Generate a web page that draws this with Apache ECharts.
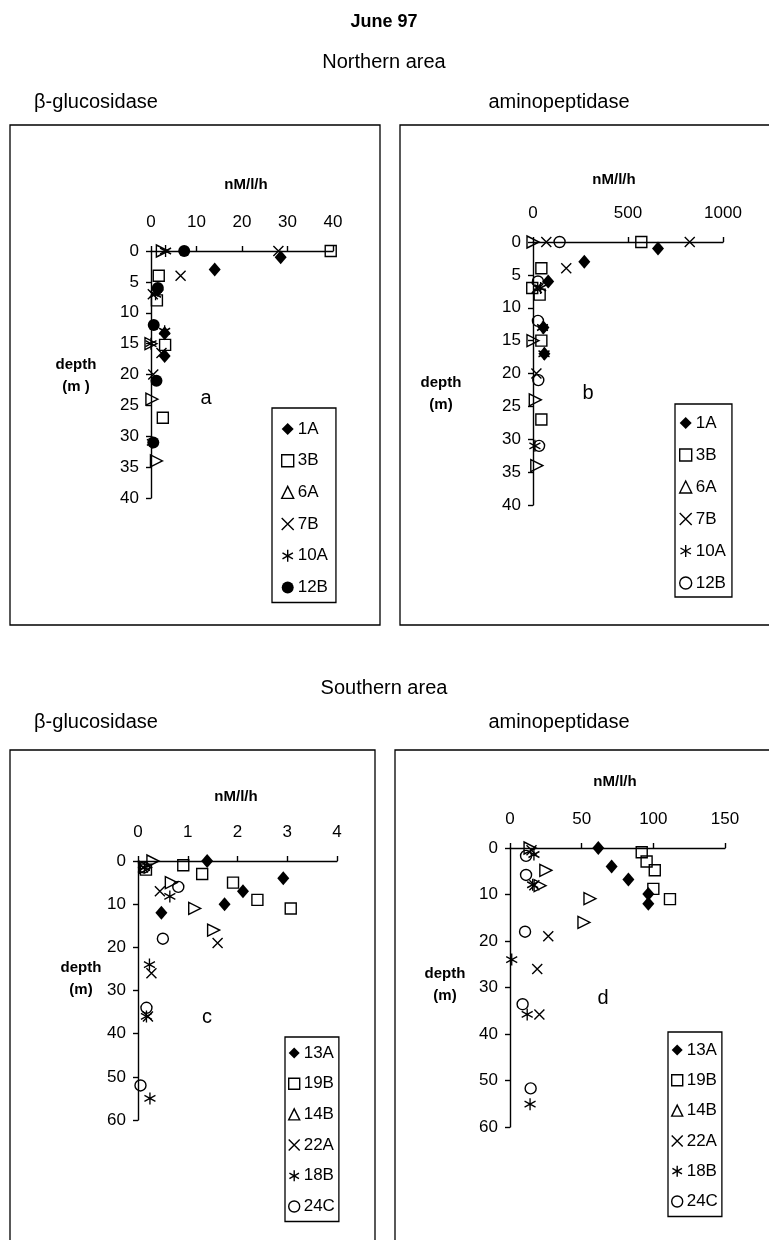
<!DOCTYPE html>
<html>
<head>
<meta charset="utf-8">
<script src="https://cdn.jsdelivr.net/npm/echarts@6/dist/echarts.min.js"></script>
<style>
html,body{margin:0;padding:0;background:#fff;}
#chart{width:769px;height:1240px;}
</style>
</head>
<body>
<div id="chart"></div>
<script>
// ---------- tick labels / axis ranges ----------
const ticksA = { xMax: 40, xStep: 10, yMax: 40, yStep: 5 };
const ticksB = { xMax: 1000, xStep: 500, yMax: 40, yStep: 5 };
const ticksC = { xMax: 4, xStep: 1, yMax: 60, yStep: 10 };
const ticksD = { xMax: 150, xStep: 50, yMax: 60, yStep: 10 };

// ---------- Northern area, beta-glucosidase (a) : [nM/l/h, depth m] ----------
const a_1A  = [[28.5,1],[14,3],[1.5,6.3],[3,13.3],[3,17]];
const a_3B  = [[39.5,0],[1.7,4],[1.3,8],[3.1,15.2],[2.6,27]];
const a_6A  = [[2.5,0],[0,15],[0.2,24],[1.2,34]];
const a_7B  = [[28,0],[6.5,4],[0.4,7],[2.3,16.5],[0.5,20]];
const a_10A = [[3.2,0],[1,7],[3,13],[0,15],[0.3,31]];
const a_12B = [[7.3,0],[1.5,6],[0.6,12],[1.2,21],[0.5,31]];

// ---------- Northern area, aminopeptidase (b) ----------
const b_1A  = [[658,1],[270,3],[80,6],[55,13],[60,17]];
const b_3B  = [[570,0],[44,4],[-4,7],[35,8],[44,15],[44,27]];
const b_6A  = [[0,0],[0,15],[12,24],[20,34]];
const b_7B  = [[825,0],[70,0],[175,4],[20,7],[18,20]];
const b_10A = [[40,7],[50,13],[58,17],[10,31]];
const b_12B = [[140,0],[26,6],[26,12],[28,21],[32,31]];

// ---------- Southern area, beta-glucosidase (c) ----------
const c_13A = [[1.39,0],[2.92,4],[2.11,7],[1.74,10],[0.47,12]];
const c_19B = [[0.91,1],[1.29,3],[1.91,5],[2.40,9],[3.07,11],[0.16,2]];
const c_14B = [[0.30,0],[0.67,5],[1.14,11],[1.52,16],[0.15,1.5]];
const c_22A = [[0.44,7],[1.60,19],[0.27,26],[0.2,36],[0.1,1.5]];
const c_18B = [[0.13,1.5],[0.64,8.2],[0.23,24],[0.17,36],[0.24,55]];
const c_24C = [[0.12,1.5],[0.81,6],[0.50,18],[0.17,34],[0.05,52]];

// ---------- Southern area, aminopeptidase (d) ----------
const d_13A = [[61.6,0],[70.9,4],[82.6,6.8],[96.5,9.9],[96.5,12]];
const d_19B = [[91.9,0.9],[95.3,2.9],[101,4.8],[100,8.8],[111.6,11]];
const d_14B = [[14,0],[25,4.8],[21,8.1],[55.8,10.9],[51.6,16]];
const d_22A = [[15,0.5],[17,8],[26.7,19],[19,26],[20.5,35.8]];
const d_18B = [[16.7,1.4],[15.8,7.9],[1.2,24],[12,35.8],[14,55.1]];
const d_24C = [[11.2,1.7],[11.2,5.8],[10.5,18],[8.8,33.6],[14.4,51.7]];

// ---------- marker styles ----------
const CROSS = 'path://M-1,-1L1,1M-1,1L1,-1';
const STAR = 'path://M0,-1L0,1M-0.87,-0.5L0.87,0.5M-0.87,0.5L0.87,-0.5';
const K = '#000';
const styles = {
  diamond: { symbol: 'diamond', size: [12,14], rot: 0, item: { color: K } },
  square:  { symbol: 'rect', size: 11, rot: 0, item: { color: 'rgba(0,0,0,0)', borderColor: K, borderWidth: 1.4 } },
  tri:     { symbol: 'triangle', size: 12, rot: -90, item: { color: 'rgba(0,0,0,0)', borderColor: K, borderWidth: 1.4 } },
  cross:   { symbol: CROSS, size: 10, rot: 0, item: { color: K, borderColor: K, borderWidth: 1.4 } },
  star:    { symbol: STAR, size: [11,12], rot: 0, item: { color: K, borderColor: K, borderWidth: 1.4 } },
  dot:     { symbol: 'circle', size: 12, rot: 0, item: { color: K } },
  ring:    { symbol: 'circle', size: 11, rot: 0, item: { color: 'rgba(0,0,0,0)', borderColor: K, borderWidth: 1.4 } }
};

const FONT = '"Liberation Sans", Arial, sans-serif';
const BOLDF = '"Liberation Sans", Arial, sans-serif';

const panels = [
  { t: ticksA, grid: { left: 151, top: 251, width: 182, height: 247 },
    series: [['1A',a_1A,'diamond'],['3B',a_3B,'square'],['6A',a_6A,'tri'],['7B',a_7B,'cross'],['10A',a_10A,'star'],['12B',a_12B,'dot']],
    legend: { left: 272, top: 408, padding: [12,8,6,9], gap: 13.7, iw: 12 } },
  { t: ticksB, grid: { left: 533, top: 242, width: 190, height: 263 },
    series: [['1A',b_1A,'diamond'],['3B',b_3B,'square'],['6A',b_6A,'tri'],['7B',b_7B,'cross'],['10A',b_10A,'star'],['12B',b_12B,'ring']],
    legend: { left: 675, top: 404, padding: [10,6,5,4], gap: 14, iw: 12 } },
  { t: ticksC, grid: { left: 138, top: 861, width: 199, height: 259 },
    series: [['13A',c_13A,'diamond'],['19B',c_19B,'square'],['14B',c_14B,'tri'],['22A',c_22A,'cross'],['18B',c_18B,'star'],['24C',c_24C,'ring']],
    legend: { left: 285, top: 1037, padding: [7,4,6,3], gap: 12.7, iw: 11 } },
  { t: ticksD, grid: { left: 510, top: 848, width: 215, height: 279 },
    series: [['13A',d_13A,'diamond'],['19B',d_19B,'square'],['14B',d_14B,'tri'],['22A',d_22A,'cross'],['18B',d_18B,'star'],['24C',d_24C,'ring']],
    legend: { left: 668, top: 1032, padding: [9,4,6,3], gap: 12.3, iw: 11 } }
];

const grid = [], xAxis = [], yAxis = [], series = [], legend = [];
panels.forEach((p, i) => {
  grid.push(p.grid);
  xAxis.push({
    gridIndex: i, type: 'value', position: 'top', min: 0, max: p.t.xMax, interval: p.t.xStep,
    axisLine: { onZero: false, lineStyle: { color: K, width: 1.4 } },
    axisTick: { show: true, inside: false, length: 5, lineStyle: { color: K, width: 1.4 } },
    axisLabel: { color: K, fontSize: 17, fontFamily: FONT, margin: 20, formatter: v => String(v) },
    splitLine: { show: false }
  });
  yAxis.push({
    gridIndex: i, type: 'value', inverse: true, min: 0, max: p.t.yMax, interval: p.t.yStep,
    axisLine: { onZero: false, lineStyle: { color: K, width: 1.4 } },
    axisTick: { show: true, inside: false, length: 5, lineStyle: { color: K, width: 1.4 } },
    axisLabel: { color: K, fontSize: 17, fontFamily: FONT, margin: 12, formatter: v => String(v) },
    splitLine: { show: false }
  });
  const ldata = [];
  p.series.forEach(([name, data, kind]) => {
    const s = styles[kind];
    series.push({
      type: 'scatter', name, data, xAxisIndex: i, yAxisIndex: i,
      symbol: s.symbol, symbolSize: s.size, symbolRotate: s.rot,
      itemStyle: Object.assign({ opacity: 1 }, s.item), clip: false,
      emphasis: { disabled: true }, silent: true
    });
    ldata.push({ name, icon: s.symbol, itemStyle: Object.assign({}, s.item) });
  });
  legend.push({
    orient: 'vertical', left: p.legend.left, top: p.legend.top, padding: p.legend.padding,
    itemGap: p.legend.gap, itemWidth: p.legend.iw, itemHeight: p.legend.iw, symbolRotate: 0,
    borderColor: K, borderWidth: 1.3, borderRadius: 0, selectedMode: false,
    textStyle: { color: K, fontSize: 17, fontFamily: FONT, lineHeight: 18, padding: [0,0,0,-1] },
    data: ldata
  });
});

function txt(text, x, y, size, weight, family) {
  return { type: 'text', x, y, silent: true,
    style: { text, fill: K, fontSize: size, fontWeight: weight || 'normal', fontFamily: family || FONT,
             textAlign: 'center', textVerticalAlign: 'middle', align: 'center', verticalAlign: 'middle', lineHeight: size + 7 } };
}
function box(x, y, w, h) {
  return { type: 'rect', shape: { x, y, width: w, height: h }, silent: true,
    style: { fill: 'none', stroke: K, lineWidth: 1.3 } };
}

const graphic = [
  box(10, 125, 370, 500), box(400, 125, 380, 500),
  box(10, 750, 365, 500), box(395, 750, 385, 500),
  txt('June 97', 384, 22, 18, 'bold'),
  txt('Northern area', 384, 62, 20),
  txt('β-glucosidase', 96, 102, 20),
  txt('aminopeptidase', 559, 102, 20),
  txt('Southern area', 384, 688, 20),
  txt('β-glucosidase', 96, 722, 20),
  txt('aminopeptidase', 559, 722, 20),
  txt('nM/l/h', 246, 185, 15, 'bold', BOLDF),
  txt('nM/l/h', 614, 180, 15, 'bold', BOLDF),
  txt('nM/l/h', 236, 797, 15, 'bold', BOLDF),
  txt('nM/l/h', 615, 782, 15, 'bold', BOLDF),
  txt('depth\n(m )', 76, 376, 15, 'bold', BOLDF),
  txt('depth\n(m)', 441, 394, 15, 'bold', BOLDF),
  txt('depth\n(m)', 81, 979, 15, 'bold', BOLDF),
  txt('depth\n(m)', 445, 985, 15, 'bold', BOLDF),
  txt('a', 206, 398, 20), txt('b', 588, 393, 20),
  txt('c', 207, 1017, 20), txt('d', 603, 998, 20)
];

const chart = echarts.init(document.getElementById('chart'), null, { renderer: 'canvas' });
chart.setOption({
  animation: false, backgroundColor: '#fff',
  grid, xAxis, yAxis, series, legend, graphic
});
</script>
</body>
</html>
